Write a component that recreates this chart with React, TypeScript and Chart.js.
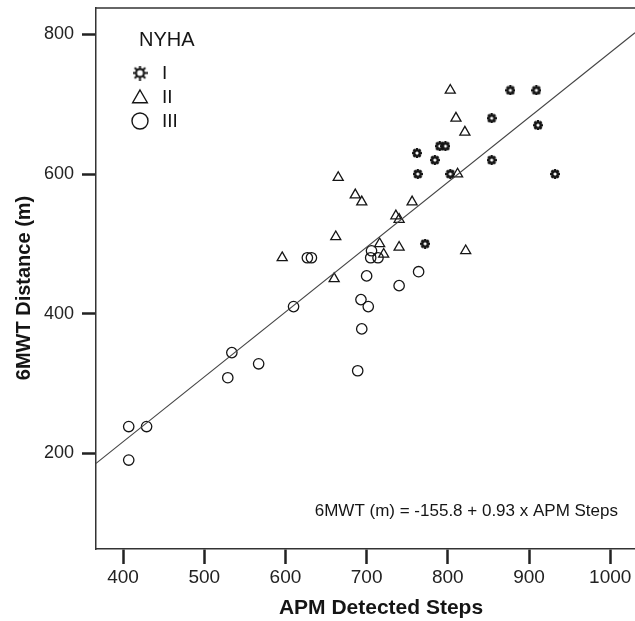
import React, { useEffect, useRef } from "react";
import { Chart, registerables } from "chart.js";

Chart.register(...registerables);

// ---- data ----
const legendTitle = "NYHA";
const seriesLabels = ["I", "II", "III"];

const starX = [877, 909, 854, 911, 790, 797, 762, 784, 854, 763, 803, 932, 772];
const starY = [720, 720, 680, 670, 640, 640, 630, 620, 620, 600, 600, 600, 500];

const triX = [803, 810, 821, 812, 665, 686, 694, 756, 736, 740, 662, 716, 740, 822, 721, 596, 660];
const triY = [720, 680, 660, 600, 595, 570, 560, 560, 540, 535, 510, 500, 495, 490, 485, 480, 450];

const circX = [706, 705, 714, 627, 632, 764, 700, 740, 693, 702, 610, 694, 534, 567, 529, 689, 407, 429, 407];
const circY = [490, 480, 480, 480, 480, 460, 454, 440, 420, 410, 410, 378, 344, 328, 308, 318, 238, 238, 190];

const fitX = [366.7, 1030.5];
const fitY = [185.2, 802.6];

const xTicks = [400, 500, 600, 700, 800, 900, 1000];
const yTicks = [200, 400, 600, 800];

const xTitle = "APM Detected Steps";
const yTitle = "6MWT Distance (m)";
const equation = "6MWT (m) = -155.8 + 0.93 x APM Steps";

const FONT = "'Liberation Sans', Arial, sans-serif";
const INK = "#151515";

function makeSun(size: number, lw: number, hole: number): HTMLCanvasElement {
  const c = document.createElement("canvas");
  c.width = size;
  c.height = size;
  const g = c.getContext("2d")!;
  const m = size / 2;
  g.strokeStyle = INK;
  g.lineCap = "butt";
  for (let i = 0; i < 8; i++) {
    const a = (i * Math.PI) / 4;
    g.beginPath();
    g.lineWidth = size * lw;
    g.moveTo(m + Math.cos(a) * size * 0.2, m + Math.sin(a) * size * 0.2);
    g.lineTo(m + Math.cos(a) * size * 0.5, m + Math.sin(a) * size * 0.5);
    g.stroke();
  }
  g.beginPath();
  g.lineWidth = size * lw;
  g.arc(m, m, size * 0.27, 0, Math.PI * 2);
  g.stroke();
  g.beginPath();
  g.fillStyle = "#fff";
  g.arc(m, m, size * hole, 0, Math.PI * 2);
  g.fill();
  return c;
}

function zip(xs: number[], ys: number[]) {
  return xs.map((x, i) => ({ x, y: ys[i] }));
}

export default function App() {
  const ref = useRef<HTMLCanvasElement | null>(null);

  useEffect(() => {
    if (!ref.current) return;
    const sunSmall = makeSun(10, 0.24, 0.13);
    const sunBig = makeSun(15, 0.13, 0.17);

    const frame = {
      id: "frame",
      afterDraw(chart: any) {
        const { ctx, chartArea } = chart;
        ctx.save();
        // top border
        ctx.strokeStyle = "#333";
        ctx.lineWidth = 1.5;
        ctx.beginPath();
        ctx.moveTo(chartArea.left, chartArea.top);
        ctx.lineTo(chartArea.right, chartArea.top);
        ctx.stroke();

        // axis titles
        ctx.fillStyle = INK;
        ctx.font = `bold 21px ${FONT}`;
        ctx.textAlign = "center";
        ctx.textBaseline = "middle";
        ctx.fillText(xTitle, 381, 608);
        ctx.font = `bold 20px ${FONT}`;
        ctx.save();
        ctx.translate(24, 288);
        ctx.rotate(-Math.PI / 2);
        ctx.fillText(yTitle, 0, 0);
        ctx.restore();

        // equation
        ctx.font = `17px ${FONT}`;
        ctx.textAlign = "right";
        ctx.textBaseline = "middle";
        ctx.fillText(equation, 618, 511);

        // legend
        ctx.textAlign = "left";
        ctx.font = `20px ${FONT}`;
        ctx.fillText(legendTitle, 139, 40);
        const rows = [73, 97, 121];
        ctx.font = `19px ${FONT}`;
        seriesLabels.forEach((lab, i) => {
          const y = rows[i];
          const x = 140;
          ctx.strokeStyle = INK;
          ctx.lineWidth = 1.4;
          if (i === 0) {
            ctx.drawImage(sunBig, x - 7.5, y - 7.5);
          } else if (i === 1) {
            const r = 8.5;
            ctx.beginPath();
            for (let k = 0; k < 3; k++) {
              const a = -Math.PI / 2 + (k * 2 * Math.PI) / 3;
              const px = x + Math.cos(a) * r;
              const py = y + 1.5 + Math.sin(a) * r;
              if (k === 0) ctx.moveTo(px, py);
              else ctx.lineTo(px, py);
            }
            ctx.closePath();
            ctx.stroke();
          } else {
            ctx.beginPath();
            ctx.arc(x, y, 8, 0, Math.PI * 2);
            ctx.stroke();
          }
          ctx.fillStyle = INK;
          ctx.fillText(lab, 162, y + 1);
        });
        ctx.restore();
      },
    };

    const chart = new Chart(ref.current, {
      type: "scatter",
      data: {
        datasets: [
          {
            type: "line",
            label: "fit",
            data: zip(fitX, fitY),
            borderColor: "#444",
            borderWidth: 1.2,
            pointRadius: 0,
            fill: false,
          } as any,
          {
            label: seriesLabels[2],
            data: zip(circX, circY),
            pointStyle: "circle",
            pointRadius: 5.2,
            borderColor: INK,
            borderWidth: 1.3,
            backgroundColor: "rgba(0,0,0,0)",
          },
          {
            label: seriesLabels[1],
            data: zip(triX, triY),
            pointStyle: "triangle",
            pointRadius: 5.8,
            borderColor: INK,
            borderWidth: 1.3,
            backgroundColor: "rgba(0,0,0,0)",
          },
          {
            label: seriesLabels[0],
            data: zip(starX, starY),
            pointStyle: sunSmall,
            pointRadius: 5,
          },
        ],
      },
      options: {
        animation: false,
        responsive: false,
        events: [],
        layout: { autoPadding: false, padding: { top: 8, left: 0, right: 0, bottom: 0 } },
        plugins: {
          legend: { display: false },
          tooltip: { enabled: false },
          title: { display: false },
        },
        scales: {
          x: {
            type: "linear",
            min: 366.7,
            max: 1030.5,
            afterBuildTicks: (s: any) => {
              s.ticks = xTicks.map((v) => ({ value: v }));
            },
            afterFit: (s: any) => {
              s.height = 72;
              s.paddingLeft = 0;
              s.paddingRight = 0;
            },
            grid: {
              drawOnChartArea: false,
              drawTicks: true,
              tickLength: 15,
              tickWidth: 2.5,
              tickColor: "#222",
            },
            border: { display: true, color: "#333", width: 1.5 },
            ticks: {
              font: { family: FONT, size: 19 },
              color: "#222",
              padding: 2,
              maxRotation: 0,
              autoSkip: false,
              callback: (v: any) => String(v),
            },
          },
          y: {
            type: "linear",
            min: 62.5,
            max: 838,
            afterBuildTicks: (s: any) => {
              s.ticks = yTicks.map((v) => ({ value: v }));
            },
            afterFit: (s: any) => {
              s.width = 96;
              s.paddingTop = 0;
              s.paddingBottom = 0;
            },
            grid: {
              drawOnChartArea: false,
              drawTicks: true,
              tickLength: 14,
              tickWidth: 2.5,
              tickColor: "#222",
            },
            border: { display: true, color: "#333", width: 1.5 },
            ticks: {
              font: { family: FONT, size: 18 },
              color: "#222",
              padding: 8,
              autoSkip: false,
              callback: (v: any) => String(v),
            },
          },
        },
      },
      plugins: [frame],
    });
    return () => chart.destroy();
  }, []);

  return (
    <div style={{ position: "fixed", left: 0, top: 0, width: 635, height: 621, background: "#fff" }}>
      <canvas ref={ref} width={635} height={621} style={{ display: "block" }} />
    </div>
  );
}
